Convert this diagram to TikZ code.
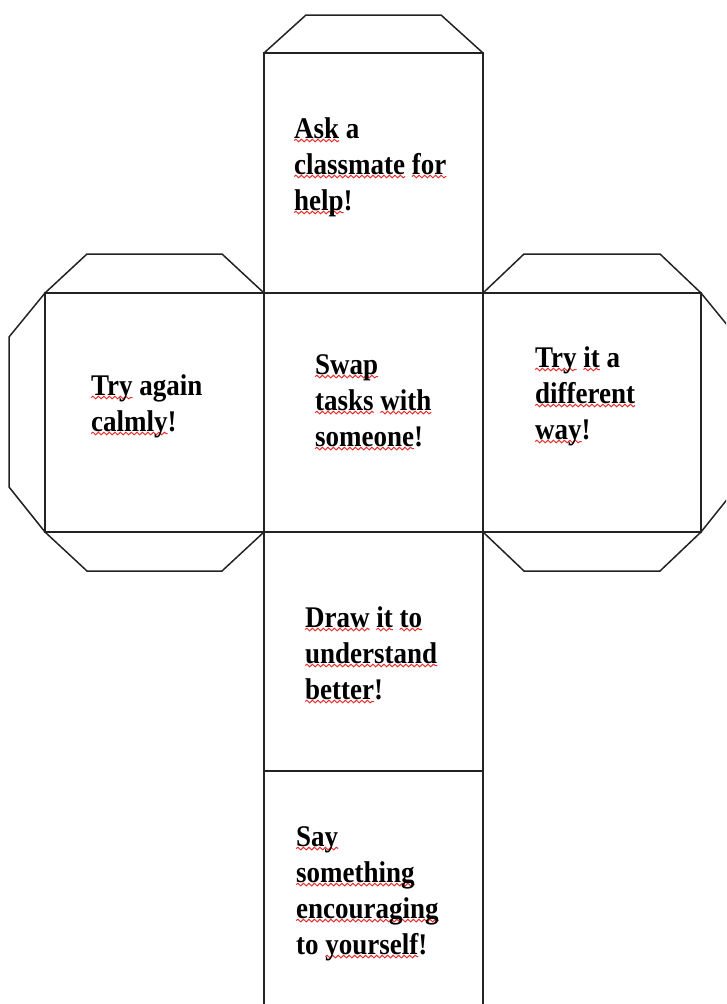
\documentclass[tikz,border=0pt]{standalone}
\usepackage{fontspec}
\usetikzlibrary{decorations.pathmorphing}
\setmainfont{Liberation Serif}
\newfontfamily\cubefont{Liberation Serif}[FakeStretch=0.9]
\definecolor{squig}{RGB}{230,45,45}
\definecolor{netline}{RGB}{35,35,35}
\tikzset{sqline/.style={draw=squig, line width=1pt, decorate,
  decoration={snake, amplitude=1.3pt, segment length=5.5pt}}}
\newsavebox\sqbox
\newlength\sqlen
\newcommand\sq[1]{\sbox\sqbox{#1}\setlength\sqlen{\wd\sqbox}\leavevmode\rlap{\tikz[overlay,baseline=0pt,x=1pt,y=1pt]\draw[sqline] (0pt,-2.5pt) -- (\sqlen,-2.5pt);}\usebox\sqbox}
\begin{document}
\begin{tikzpicture}[x=1pt,y=-1pt,
  net/.style={line width=1.5pt, draw=netline, line join=miter},
  facetext/.style={anchor=north west, inner sep=0pt, align=left,
    font=\cubefont\bfseries\fontsize{30}{36}\selectfont}]
\useasboundingbox (0,0) rectangle (726,1004);
\clip (0,0) rectangle (726,1004);
% centre column
\draw[net] (264,53) rectangle (483,1010);
\draw[net] (264,293) -- (483,293);
\draw[net] (264,532) -- (483,532);
\draw[net] (264,771) -- (483,771);
% top flap
\draw[net] (264,53) -- (306,15) -- (441,15) -- (483,53);
% left square and flaps
\draw[net] (45,293) rectangle (264,532);
\draw[net] (45,293) -- (87,254) -- (222,254) -- (264,293);
\draw[net] (45,532) -- (87,571) -- (222,571) -- (264,532);
\draw[net] (45,293) -- (9,337) -- (9,487) -- (45,532);
% right square and flaps
\draw[net] (483,293) rectangle (701,532);
\draw[net] (483,293) -- (524,254) -- (660,254) -- (701,293);
\draw[net] (483,532) -- (524,571) -- (660,571) -- (701,532);
\draw[net] (701,293) -- (737,337) -- (737,487) -- (701,532);
% texts
\node[facetext] (ask) at (294,117) {\sq{Ask} a\\\sq{classmate} \sq{for}\\\sq{help}!};
\node[facetext] (swap) at (315,354) {\sq{Swap}\\\sq{tasks} \sq{with}\\\sq{someone}!};
\node[facetext] (draw) at (305,606) {\sq{Draw} \sq{it} \sq{to}\\\sq{understand}\\\sq{better}!};
\node[facetext] (say) at (296,826) {\sq{Say}\\\sq{something}\\\sq{encouraging}\\to \sq{yourself}!};
\node[facetext] (again) at (91,374) {\sq{Try} again\\\sq{calmly}!};
\node[facetext] (tryit) at (535,346) {\sq{Try} \sq{it} a\\\sq{different}\\\sq{way}!};
\end{tikzpicture}
\end{document}
